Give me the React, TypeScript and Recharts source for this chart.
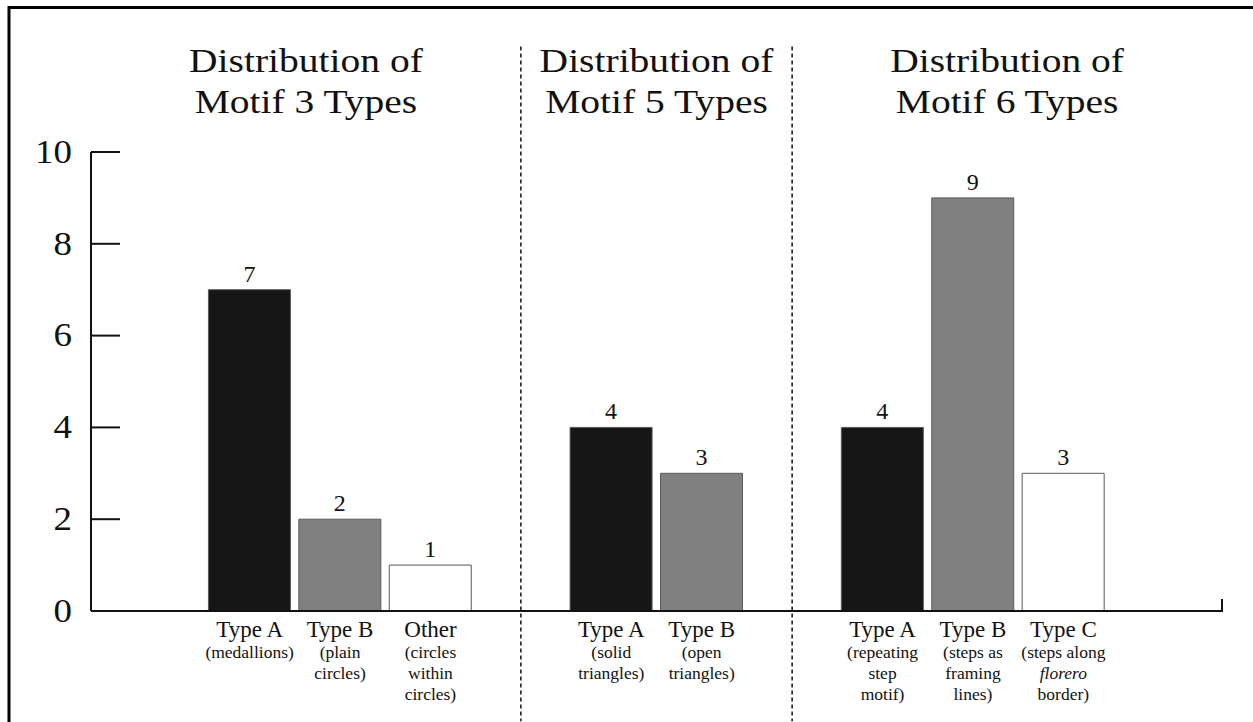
import { BarChart, Bar, XAxis, YAxis, Cell, LabelList, ReferenceLine } from 'recharts'

// values
const motif3Types = ['Type A', 'Type B', 'Other']
const motif3Notes = [['(medallions)'], ['(plain', 'circles)'], ['(circles', 'within', 'circles)']]
const motif3Counts = [7, 2, 1]

const motif5Types = ['Type A', 'Type B']
const motif5Notes = [['(solid', 'triangles)'], ['(open', 'triangles)']]
const motif5Counts = [4, 3]

const motif6Types = ['Type A', 'Type B', 'Type C']
const motif6Notes = [['(repeating', 'step', 'motif)'], ['(steps as', 'framing', 'lines)'], ['(steps along', 'florero', 'border)']]
const motif6Counts = [4, 9, 3]

const groupTitles = [
  ['Distribution of', 'Motif 3 Types'],
  ['Distribution of', 'Motif 5 Types'],
  ['Distribution of', 'Motif 6 Types']
]
const yTicks = [0, 2, 4, 6, 8, 10]
const italicWords = ['florero']

const SHADES = ['#161616', '#808080', '#ffffff']
const FONT = '"Liberation Serif", "Times New Roman", serif'
const INK = '#111'

const W = 1253
const H = 722
const M = { top: 152, right: 31, bottom: 0, left: 0 }
const Y_AXIS_W = 91
const X_AXIS_H = 111
const PAD = 23

interface Row {
  key: string
  label: string
  notes: string[]
  count: number | null
  shade: number
}

const groups = [
  { types: motif3Types, notes: motif3Notes, counts: motif3Counts },
  { types: motif5Types, notes: motif5Notes, counts: motif5Counts },
  { types: motif6Types, notes: motif6Notes, counts: motif6Counts }
]

const rows: Row[] = []
groups.forEach((g, gi) => {
  rows.push({ key: `gap${gi}`, label: '', notes: [], count: null, shade: -1 })
  g.types.forEach((t, i) => {
    rows.push({ key: `m${gi}-${i}`, label: t, notes: g.notes[i], count: g.counts[i], shade: i })
  })
})
rows.push({ key: `gap${groups.length}`, label: '', notes: [], count: null, shade: -1 })

const rowByKey: Record<string, Row> = {}
rows.forEach(r => { rowByKey[r.key] = r })

// plot geometry (for overlay decoration)
const plotLeft = M.left + Y_AXIS_W
const plotRight = W - M.right
const band = (plotRight - plotLeft - 2 * PAD) / rows.length
const bandCenter = (i: number) => plotLeft + PAD + (i + 0.5) * band
const dividerIdx = rows.map((r, i) => (r.count === null && i > 0 && i < rows.length - 1 ? i : -1)).filter(i => i >= 0)
const sectionEdges = [plotLeft, ...dividerIdx.map(bandCenter), plotRight]

const YTick = ({ x, y, payload }: any) => (
  <g>
    <line x1={x} x2={x + 29} y1={y} y2={y} stroke={INK} strokeWidth={2} />
    <text
      transform={`translate(${x - 19},${y}) scale(1.12,1)`}
      textAnchor="end"
      dominantBaseline="central"
      fontSize={33}
      fontFamily={FONT}
      fill={INK}
    >
      {payload.value}
    </text>
  </g>
)

const XTick = ({ x, y, payload }: any) => {
  const row = rowByKey[payload.value]
  if (!row || !row.label) return null
  return (
    <g fontFamily={FONT} fill={INK} textAnchor="middle">
      <text x={x} y={y + 26} fontSize={23}>{row.label}</text>
      {row.notes.map((n, i) => (
        <text
          key={i}
          x={x}
          y={y + 47 + i * 21}
          fontSize={17.5}
          fontStyle={italicWords.includes(n) ? 'italic' : 'normal'}
        >
          {n}
        </text>
      ))}
    </g>
  )
}

export default function App() {
  return (
    <div style={{ position: 'absolute', left: 0, top: 0, width: W, height: H, background: '#fff' }}>
      <BarChart width={W} height={H} data={rows} margin={M}>
        <XAxis
          dataKey="key"
          height={X_AXIS_H}
          padding={{ left: PAD, right: PAD }}
          tickLine={false}
          tickSize={0}
          tickMargin={0}
          interval={0}
          axisLine={{ stroke: INK, strokeWidth: 2 }}
          tick={<XTick />}
        />
        <YAxis
          width={Y_AXIS_W}
          domain={[0, 10]}
          ticks={yTicks}
          tickLine={false}
          tickSize={0}
          tickMargin={0}
          axisLine={{ stroke: INK, strokeWidth: 2 }}
          tick={<YTick />}
        />
        {dividerIdx.map(i => (
          <ReferenceLine
            key={i}
            segment={[{ x: rows[i].key, y: 12.3 }, { x: rows[i].key, y: -2.4 }]}
            ifOverflow="visible"
            stroke={INK}
            strokeWidth={1.5}
            strokeDasharray="4 3"
          />
        ))}
        <Bar dataKey="count" barSize={82} stroke="#5a5a5a" strokeWidth={1} isAnimationActive={false}>
          {rows.map(r => (
            <Cell key={r.key} fill={r.shade >= 0 ? SHADES[r.shade] : 'none'} />
          ))}
          <LabelList dataKey="count" position="top" offset={8} fontSize={24} fontFamily={FONT} fill={INK} />
        </Bar>
      </BarChart>
      <svg
        width={W}
        height={H}
        style={{ position: 'absolute', left: 0, top: 0, pointerEvents: 'none' }}
      >
        <line x1={9} x2={9} y1={6} y2={H} stroke="#000" strokeWidth={3} />
        <line x1={8} x2={W} y1={7.5} y2={7.5} stroke="#000" strokeWidth={3} />
        <line x1={plotRight} x2={plotRight} y1={599} y2={612} stroke={INK} strokeWidth={2} />
        {groupTitles.map((lines, gi) => {
          const cx = (sectionEdges[gi] + sectionEdges[gi + 1]) / 2
          return lines.map((t, li) => (
            <text
              key={`${gi}-${li}`}
              transform={`translate(${cx},${72 + li * 41}) scale(1.18,1)`}
              textAnchor="middle"
              fontSize={33.5}
              fontFamily={FONT}
              fill={INK}
            >
              {t}
            </text>
          ))
        })}
      </svg>
    </div>
  )
}
